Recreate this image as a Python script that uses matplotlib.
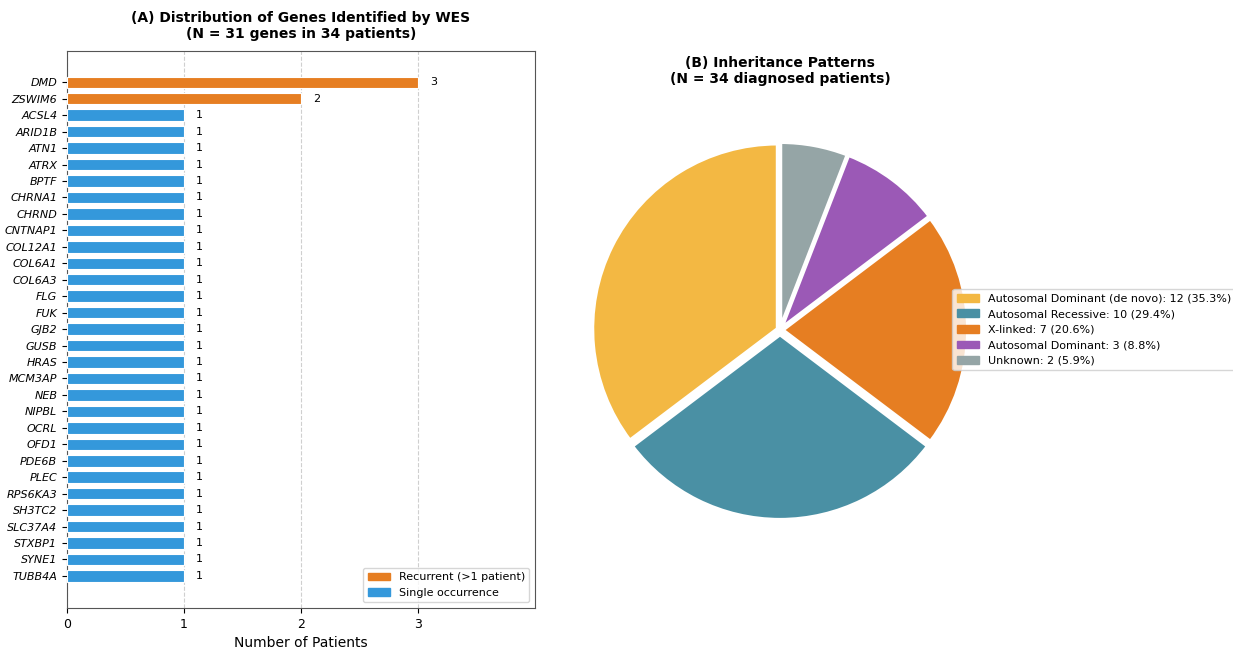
import matplotlib.pyplot as plt
from matplotlib.patches import Patch

genes = ['DMD', 'ZSWIM6', 'ACSL4', 'ARID1B', 'ATN1', 'ATRX', 'BPTF', 'CHRNA1',
         'CHRND', 'CNTNAP1', 'COL12A1', 'COL6A1', 'COL6A3', 'FLG', 'FUK', 'GJB2',
         'GUSB', 'HRAS', 'MCM3AP', 'NEB', 'NIPBL', 'OCRL', 'OFD1', 'PDE6B', 'PLEC',
         'RPS6KA3', 'SH3TC2', 'SLC37A4', 'STXBP1', 'SYNE1', 'TUBB4A']
patients = [3, 2] + [1] * 29

patterns = ['Autosomal Dominant (de novo)', 'Autosomal Recessive', 'X-linked',
            'Autosomal Dominant', 'Unknown']
pattern_counts = [12, 10, 7, 3, 2]
pattern_colors = ['#f3b843', '#4a90a4', '#e67e22', '#9b59b6', '#95a5a6']
pattern_explode = [0.015, 0.025, 0.015, 0.015, 0.015]

ORANGE = '#e67e22'
BLUE = '#3498db'

fig = plt.figure(figsize=(12.33, 6.48), dpi=100)

# (A) bar chart
ax1 = fig.add_axes([0.0543, 0.0617, 0.3796, 0.8596])
ypos = list(range(len(genes)))
colors = [ORANGE if v > 1 else BLUE for v in patients]
ax1.barh(ypos, patients, height=0.7, color=colors, edgecolor='white', linewidth=0.8, zorder=3)
for y, v in zip(ypos, patients):
    ax1.text(v + 0.1, y, str(v), va='center', ha='left', fontsize=8)
ax1.set_yticks(ypos)
ax1.set_yticklabels(genes, fontsize=8, style='italic')
ax1.set_ylim(len(genes) + 0.95, -1.9)
ax1.set_xlim(0, 4)
ax1.set_xticks([0, 1, 2, 3])
ax1.tick_params(axis='x', labelsize=9)
ax1.grid(axis='x', linestyle='--', alpha=0.6, zorder=0)
ax1.set_xlabel('Number of Patients', fontsize=10)
ax1.set_title('(A) Distribution of Genes Identified by WES\n(N = 31 genes in 34 patients)',
              fontsize=10, fontweight='bold', pad=9)
for sp in ax1.spines.values():
    sp.set_color('#555555')
handles = [Patch(color=ORANGE, label='Recurrent (>1 patient)'),
           Patch(color=BLUE, label='Single occurrence')]
ax1.legend(handles=handles, loc='lower right', fontsize=8)

# (B) pie chart
ax2 = fig.add_axes([558 / 1233, 96 / 648, 444 / 1233, 444 / 648])
total = sum(pattern_counts)
ax2.pie(pattern_counts, colors=pattern_colors, startangle=90,
        explode=pattern_explode, radius=1.0,
        wedgeprops=dict(edgecolor='white', linewidth=2.5))
ax2.set_xlim(-1.2, 1.2)
ax2.set_ylim(-1.2, 1.2)
ax2.set_aspect('equal')
ax2.set_title('(B) Inheritance Patterns\n(N = 34 diagnosed patients)',
              fontsize=10, fontweight='bold', pad=18)
labels = [f'{p}: {c} ({c / total * 100:.1f}%)' for p, c in zip(patterns, pattern_counts)]
leg_handles = [Patch(color=c, label=l) for c, l in zip(pattern_colors, labels)]
fig.legend(handles=leg_handles, loc='center left', bbox_to_anchor=(0.768, 0.491),
           fontsize=8, framealpha=0.8, labelspacing=0.5)

fig.savefig('out.png', dpi=100)
